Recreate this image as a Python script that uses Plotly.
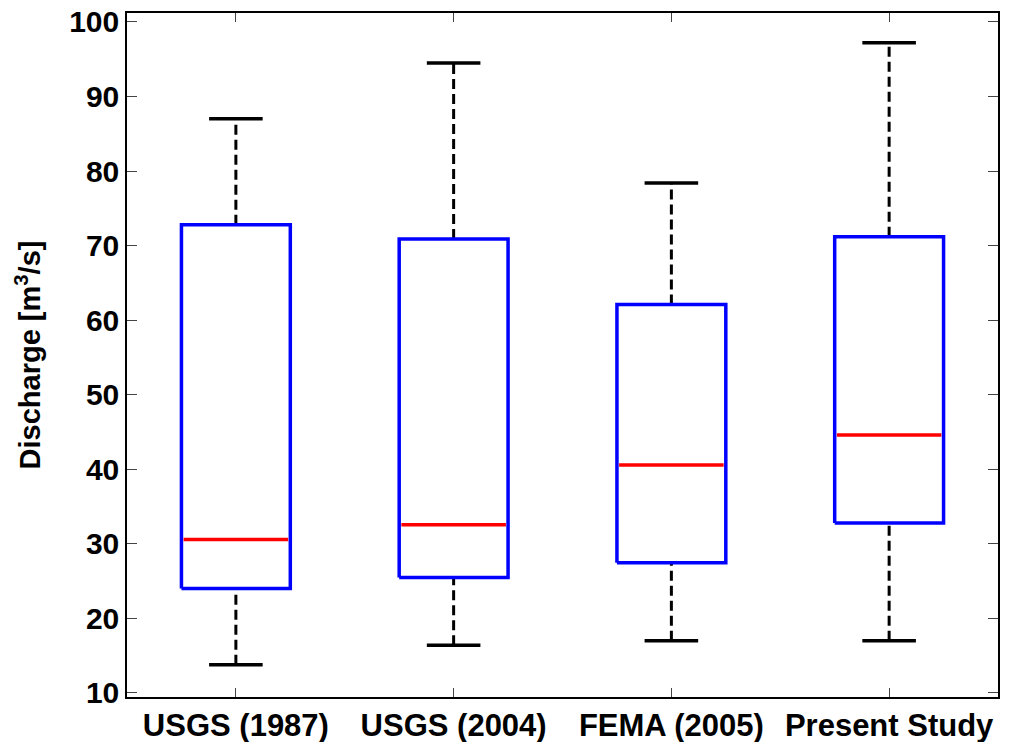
import plotly.graph_objects as go

categories = ["USGS (1987)", "USGS (2004)", "FEMA (2005)", "Present Study"]
lower_whisker = [13.8, 16.4, 17.0, 17.0]
q1 = [24.0, 25.5, 27.45, 32.8]
median = [30.6, 32.55, 40.56, 44.6]
q3 = [72.8, 70.9, 62.1, 71.2]
upper_whisker = [87.0, 94.5, 78.4, 97.2]
y_ticks = [10, 20, 30, 40, 50, 60, 70, 80, 90, 100]

half_box = 0.25
half_cap = 0.123

fig = go.Figure()
for i, name in enumerate(categories):
    c = i + 1
    # whiskers (dashed)
    fig.add_trace(go.Scatter(x=[c, c], y=[q3[i], upper_whisker[i]], mode="lines",
                             line=dict(color="black", width=3, dash="10px,5px"),
                             showlegend=False, hoverinfo="skip"))
    fig.add_trace(go.Scatter(x=[c, c], y=[lower_whisker[i], q1[i]], mode="lines",
                             line=dict(color="black", width=3, dash="10px,5px"),
                             showlegend=False, hoverinfo="skip"))
    # caps
    fig.add_trace(go.Scatter(x=[c - half_cap, c + half_cap], y=[upper_whisker[i]] * 2, mode="lines",
                             line=dict(color="black", width=3.5), showlegend=False, hoverinfo="skip"))
    fig.add_trace(go.Scatter(x=[c - half_cap, c + half_cap], y=[lower_whisker[i]] * 2, mode="lines",
                             line=dict(color="black", width=3.5), showlegend=False, hoverinfo="skip"))
    # box
    fig.add_trace(go.Scatter(x=[c - half_box, c + half_box, c + half_box, c - half_box, c - half_box],
                             y=[q1[i], q1[i], q3[i], q3[i], q1[i]], mode="lines",
                             line=dict(color="#0000ff", width=3.5), showlegend=False, name=name))
    # median
    fig.add_trace(go.Scatter(x=[c - half_box + 0.01, c + half_box - 0.01], y=[median[i]] * 2, mode="lines",
                             line=dict(color="#ff0000", width=3.5), showlegend=False, hoverinfo="skip"))

xfont = dict(family="Liberation Sans", size=31, color="black", weight="bold")
yfont = dict(family="Liberation Sans", size=30, color="black", weight="bold")

fig.update_layout(
    width=1011, height=742,
    margin=dict(l=127, r=13, t=13, b=45),
    paper_bgcolor="white", plot_bgcolor="white",
    xaxis=dict(range=[0.5, 4.5], tickvals=[1, 2, 3, 4], ticktext=categories, automargin=False,
               showgrid=False, zeroline=False, showline=True, linecolor="black", linewidth=1.5,
               mirror="ticks", ticks="inside", ticklen=9, tickwidth=1, tickcolor="#444",
               tickfont=xfont, ticklabelstandoff=0),
    yaxis=dict(range=[9.46, 101.2], tickvals=y_ticks, automargin=False,
               showgrid=False, zeroline=False, showline=True, linecolor="black", linewidth=1.5,
               mirror="ticks", ticks="inside", ticklen=10, tickwidth=1, tickcolor="#444",
               tickfont=yfont,
               title=dict(text="Discharge [m<sup>3</sup>/s]", standoff=20,
                          font=dict(family="Liberation Sans Narrow, Liberation Sans", size=29,
                                    color="black", weight="bold"))),
)

fig.write_html("out.html", config={"displayModeBar": False},
               post_script="document.body.style.margin='0';document.body.style.overflow='hidden';")
